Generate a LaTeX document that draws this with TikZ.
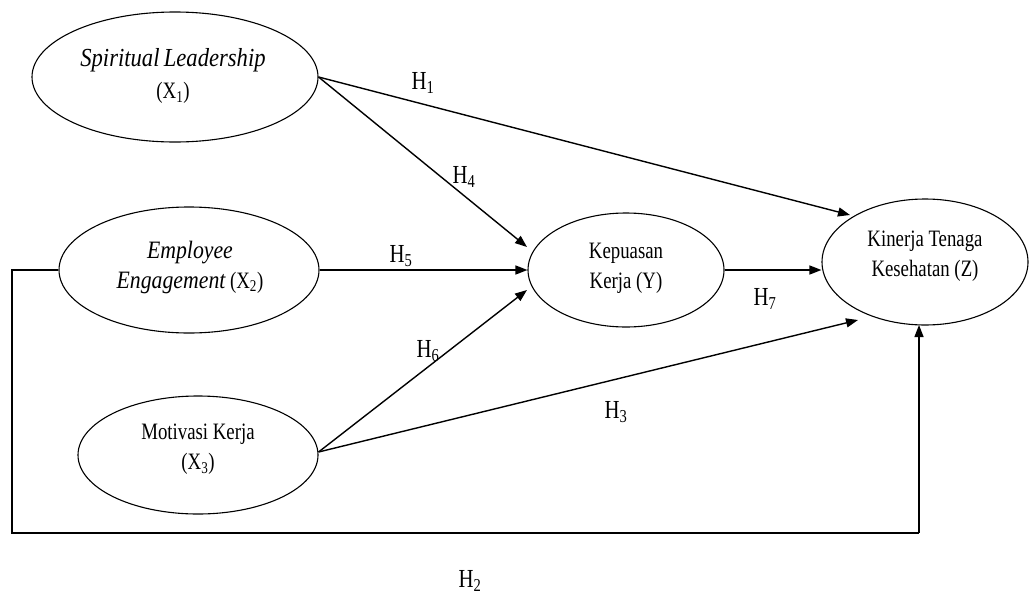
\documentclass[tikz,border=0pt]{standalone}
\usepackage{fontspec}
\setmainfont{Liberation Serif}
\newfontfamily\nf{Liberation Serif}[FakeStretch=0.8]
\newfontfamily\itf{Liberation Serif}[FakeStretch=0.87]
\usetikzlibrary{shapes.geometric,arrows.meta}

\begin{document}
\begin{tikzpicture}[x=1pt,y=-1pt,
  var/.style={draw, ellipse, line width=1.1pt, inner sep=0pt},
  txt/.style={align=center, inner sep=0pt, font=\nf\fontsize{23.5}{30}\selectfont},
  hyp/.style={inner sep=0pt, font=\nf\fontsize{26}{28}\selectfont},
  path/.style={line width=1.4pt, -{Triangle[length=12pt,width=9pt]}},
  link/.style={line width=1.4pt}]
\useasboundingbox (0,0) rectangle (1032,597);

% latent variables
\node[var, minimum width=286pt, minimum height=130pt] (x1) at (175,77) {};
\node[txt] (x1t) at (173,76) {{\itf\itshape\fontsize{26}{33}\selectfont Spiritual\,Leadership}\\[2pt](X\textsubscript{1})};

\node[var, minimum width=260pt, minimum height=126pt] (x2) at (189,270) {};
\node[txt] (x2t) at (190,267) {{\itf\itshape\fontsize{25}{27}\selectfont Employee}\\{\itf\itshape\fontsize{25}{27}\selectfont Engagement} (X\textsubscript{2})};

\node[var, minimum width=240pt, minimum height=118pt] (x3) at (198,455) {};
\node[txt] (x3t) at (198,449) {Motivasi Kerja\\(X\textsubscript{3})};

\node[var, minimum width=196pt, minimum height=114pt] (y) at (626,270) {};
\node[txt] (yt) at (626,268) {Kepuasan\\Kerja (Y)};

\node[var, minimum width=206pt, minimum height=126pt] (z) at (925,262) {};
\node[txt] (zt) at (925,256) {Kinerja Tenaga\\Kesehatan (Z)};

% arrow tips that stop short of the ellipses
\coordinate (y1) at (527,247);
\coordinate (y3) at (527,290);
\coordinate (z1) at (850,215);
\coordinate (z3) at (858,320);
\coordinate (c1) at (12,270);
\coordinate (c2) at (12,533);
\coordinate (c3) at (919,533);
\coordinate (z4) at (919,325);

% structural paths
\draw[path] (x1.east) -- (z1);
\draw[path] (x1.east) -- (y1);
\draw[path] (x2.east) -- (y.west);
\draw[path] ([yshift=3pt]x3.east) -- (y3);
\draw[path] ([yshift=3pt]x3.east) -- (z3);
\draw[path] (y.east) -- (z.west |- y.east);
\draw[link] (x2.west) -- (c1) -- (c2) -- (c3);
\draw[path] (c3) -- (z4);

% hypothesis labels
\node[hyp] (h1) at (423,83) {H\textsubscript{1}};
\node[hyp] (h4) at (464,177) {H\textsubscript{4}};
\node[hyp] (h5) at (401,256) {H\textsubscript{5}};
\node[hyp] (h6) at (428,351) {H\textsubscript{6}};
\node[hyp] (h3) at (616,412) {H\textsubscript{3}};
\node[hyp] (h7) at (765,299) {H\textsubscript{7}};
\node[hyp] (h2) at (470,581) {H\textsubscript{2}};
\end{tikzpicture}
\end{document}
